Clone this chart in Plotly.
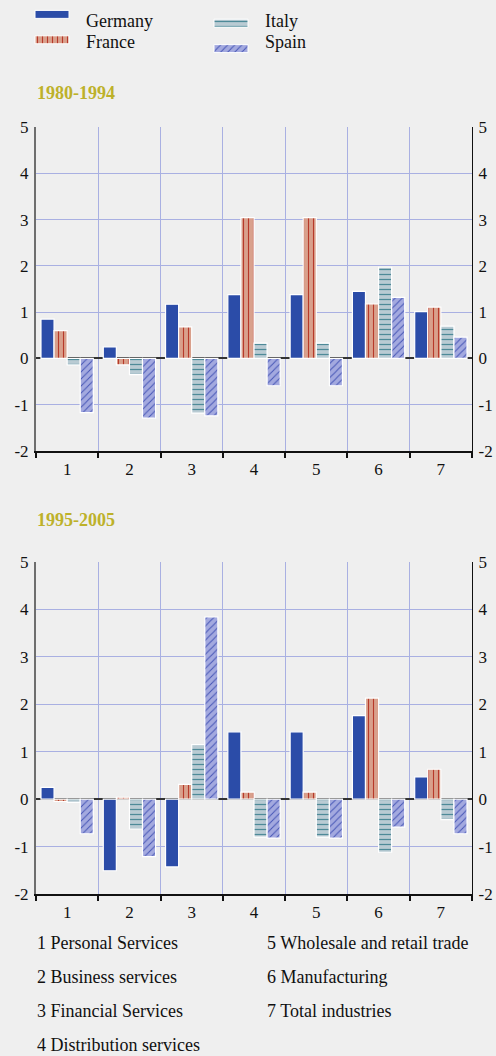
import plotly.graph_objects as go

# data
categories = [1, 2, 3, 4, 5, 6, 7]
cat_labels = ["1", "2", "3", "4", "5", "6", "7"]
y_ticks = [-2, -1, 0, 1, 2, 3, 4, 5]
y_tick_labels = ["-2", "-1", "0", "1", "2", "3", "4", "5"]
countries = ["Germany", "France", "Italy", "Spain"]

p1_germany = [0.85, 0.25, 1.17, 1.38, 1.38, 1.45, 1.01]
p1_france = [0.60, -0.14, 0.68, 3.04, 3.04, 1.18, 1.11]
p1_italy = [-0.14, -0.35, -1.18, 0.33, 0.33, 1.97, 0.70]
p1_spain = [-1.17, -1.29, -1.24, -0.59, -0.59, 1.32, 0.46]

p2_germany = [0.25, -1.51, -1.43, 1.42, 1.42, 1.76, 0.47]
p2_france = [-0.05, 0.04, 0.31, 0.15, 0.15, 2.13, 0.63]
p2_italy = [-0.07, -0.63, 1.15, -0.80, -0.80, -1.12, -0.43]
p2_spain = [-0.73, -1.21, 3.84, -0.82, -0.82, -0.59, -0.73]

panel_titles = ["1980-1994", "1995-2005"]
notes_left = ["1 Personal Services", "2 Business services", "3 Financial Services", "4 Distribution services"]
notes_right = ["5 Wholesale and retail trade", "6 Manufacturing", "7 Total industries"]

W, H = 496, 1056
FONT = "Liberation Serif"
BG = "#efefef"
GRID = "#a9b0e2"

styles = {
    "Germany": dict(color="#2b4ca8", pattern=dict(shape="")),
    "France": dict(color="#d9a08c", pattern=dict(shape="|", fgcolor="#b7392a", bgcolor="#d9a08c",
                                                 size=5, solidity=0.22, fillmode="replace")),
    "Italy": dict(color="#b9cbd3", pattern=dict(shape="-", fgcolor="#4e8a98", bgcolor="#b9cbd3",
                                                size=5, solidity=0.25, fillmode="replace")),
    "Spain": dict(color="#a3a9df", pattern=dict(shape="/", fgcolor="#4656b6", bgcolor="#a3a9df",
                                                size=5, solidity=0.2, fillmode="replace")),
}


def px_x(x):
    return x / W


def px_y(y):
    return 1 - y / H


fig = go.Figure()

panels = [
    ("x", "y", [p1_germany, p1_france, p1_italy, p1_spain]),
    ("x2", "y3", [p2_germany, p2_france, p2_italy, p2_spain]),
]
for xa, ya, series in panels:
    for name, vals in zip(countries, series):
        st = styles[name]
        fig.add_trace(go.Bar(
            x=categories, y=vals, name=name, xaxis=xa, yaxis=ya,
            marker=dict(color=st["color"], pattern=st["pattern"],
                        line=dict(color="white", width=1.2)),
            showlegend=False,
        ))

# dummy traces so the right-hand axes get drawn
fig.add_trace(go.Scatter(x=[None], y=[None], xaxis="x", yaxis="y2", showlegend=False))
fig.add_trace(go.Scatter(x=[None], y=[None], xaxis="x2", yaxis="y4", showlegend=False))

# legend swatches drawn as short horizontal bars in a helper axis
leg_x = [35, 35, 214, 214]
leg_y = [21, 42, 21, 42]
for name, lx, ly in zip(countries, leg_x, leg_y):
    st = styles[name]
    fig.add_trace(go.Bar(
        x=[34], y=[ly], base=[lx], orientation="h", width=[8],
        xaxis="x3", yaxis="y5",
        marker=dict(color=st["color"], pattern=st["pattern"], line=dict(color="white", width=1)),
        showlegend=False, hoverinfo="skip",
    ))

tickfont = dict(family=FONT, size=17, color="#111")
x_dom = [px_x(36), px_x(472)]
top_dom = [px_y(451), px_y(127)]
bot_dom = [px_y(894), px_y(562)]


def xaxis_cfg(anchor):
    return dict(
        domain=x_dom, anchor=anchor, range=[0.5, 7.5], automargin=False,
        tickmode="array", tickvals=categories, ticktext=cat_labels,
        ticks="", showgrid=False, tickfont=tickfont, ticklabelstandoff=2,
        showline=True, linecolor="#111", linewidth=1.5,
        minor=dict(tick0=0.5, dtick=1, showgrid=True, gridcolor=GRID, gridwidth=1,
                   ticks="outside", ticklen=5, tickcolor="#111", tickwidth=1.5),
        zeroline=False, fixedrange=True,
    )


def yleft_cfg(domain, anchor):
    return dict(
        domain=domain, anchor=anchor, range=[-2, 5], automargin=False,
        tickmode="array", tickvals=y_ticks, ticktext=y_tick_labels,
        showgrid=True, gridcolor=GRID, gridwidth=1,
        showline=True, linecolor="#6e6e6e", linewidth=2,
        zeroline=True, zerolinecolor="#333", zerolinewidth=2,
        ticks="", tickfont=tickfont, ticklabelstandoff=2, fixedrange=True,
    )


def yright_cfg(over, anchor):
    return dict(
        overlaying=over, side="right", anchor=anchor, range=[-2, 5], automargin=False,
        tickmode="array", tickvals=y_ticks, ticktext=y_tick_labels,
        showgrid=False, zeroline=False, showline=True, linecolor="#111", linewidth=1.2,
        ticks="", tickfont=tickfont, ticklabelstandoff=2, fixedrange=True,
    )


fig.update_layout(
    width=W, height=H, autosize=False,
    margin=dict(l=0, r=0, t=0, b=0, pad=0, autoexpand=False),
    paper_bgcolor=BG, plot_bgcolor=BG,
    barmode="group", bargap=0.16, bargroupgap=0,
    showlegend=False,
    font=dict(family=FONT, color="#111"),
    xaxis=xaxis_cfg("y"),
    yaxis=yleft_cfg(top_dom, "x"),
    yaxis2=yright_cfg("y", "x"),
    xaxis2=xaxis_cfg("y3"),
    yaxis3=yleft_cfg(bot_dom, "x2"),
    yaxis4=yright_cfg("y3", "x2"),
    xaxis3=dict(domain=[0, 1], anchor="y5", range=[0, W], visible=False, fixedrange=True),
    yaxis5=dict(domain=[px_y(60), px_y(4)], anchor="x3", range=[60, 4], visible=False, fixedrange=True),
)

annotations = []
# legend labels
for name, lx, ly in zip(countries, leg_x, leg_y):
    annotations.append(dict(x=px_x(lx + 49), y=px_y(ly), xref="paper", yref="paper",
                            text=name, showarrow=False, xanchor="left", yanchor="middle",
                            font=dict(family=FONT, size=18, color="#111")))
# panel titles
for title, ty in zip(panel_titles, [93, 520]):
    annotations.append(dict(x=px_x(35), y=px_y(ty), xref="paper", yref="paper",
                            text="<b>" + title + "</b>", showarrow=False,
                            xanchor="left", yanchor="middle",
                            font=dict(family=FONT, size=18, color="#bdb12a")))
# category notes
note_y = [943, 977, 1011, 1045]
for txt, ny in zip(notes_left, note_y):
    annotations.append(dict(x=px_x(35), y=px_y(ny), xref="paper", yref="paper",
                            text=txt, showarrow=False, xanchor="left", yanchor="middle",
                            font=dict(family=FONT, size=18, color="#111")))
for txt, ny in zip(notes_right, note_y):
    annotations.append(dict(x=px_x(265), y=px_y(ny), xref="paper", yref="paper",
                            text=txt, showarrow=False, xanchor="left", yanchor="middle",
                            font=dict(family=FONT, size=18, color="#111")))
fig.update_layout(annotations=annotations)

# drop the default page margin so the figure sits at the window's corner
fig.write_html("out.html", config=dict(displayModeBar=False, responsive=False),
               post_script="document.body.style.margin='0';")
